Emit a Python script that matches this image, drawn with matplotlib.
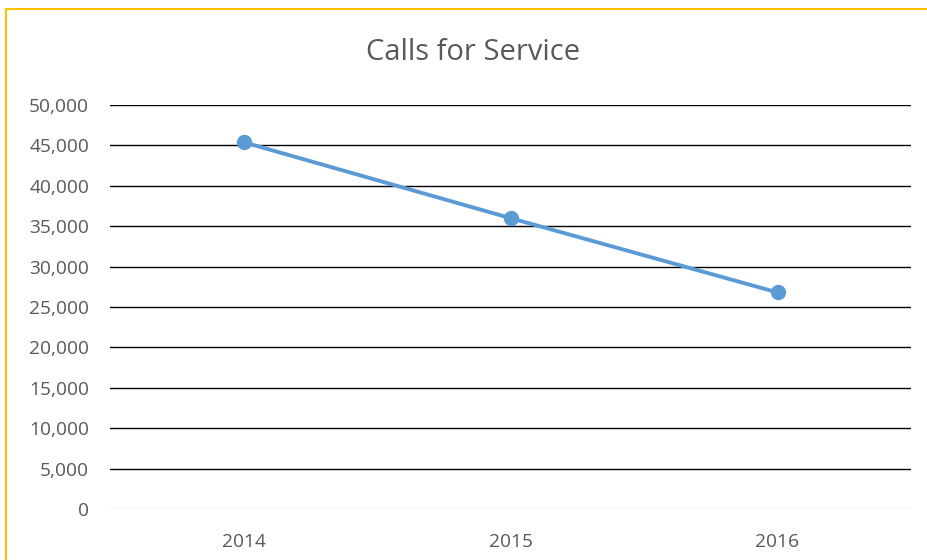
import matplotlib
matplotlib.use("Agg")
import matplotlib.pyplot as plt
from matplotlib.patches import Rectangle
from matplotlib.ticker import FuncFormatter

years = ['2014', '2015', '2016']
calls = [45400, 36000, 26800]
y_ticks = list(range(0, 50001, 5000))

plt.rcParams['font.family'] = ['Open Sans', 'DejaVu Sans']

fig = plt.figure(figsize=(9.27, 5.6), dpi=100)
ax = fig.add_axes([110 / 927, 1 - 509 / 560, 801 / 927, 404 / 560])

x = list(range(len(years)))
ax.plot(x, calls, color='#5B9BD5', linewidth=2.8, marker='o', markersize=10,
        solid_capstyle='round', zorder=3)

ax.set_xlim(-0.5, 2.5)
ax.set_ylim(0, 50000)
ax.set_xticks(x)
ax.set_xticklabels(years)
ax.set_yticks(y_ticks)
ax.yaxis.set_major_formatter(FuncFormatter(lambda v, p: f'{int(v):,}'))

# gridlines black, zero line light grey
for v in y_ticks[1:]:
    ax.axhline(v, color='black', linewidth=1.0, zorder=1)
ax.axhline(0, color='#D0D0D0', linewidth=1.0, zorder=1)

for s in ax.spines.values():
    s.set_visible(False)
ax.tick_params(length=0, labelsize=13.8, colors='#595959')
ax.tick_params(axis='y', pad=15)
ax.tick_params(axis='x', pad=17)

fig.text(473 / 927, 1 - 53 / 560, 'Calls for Service', ha='center', va='center',
         fontsize=21, color='#595959')

# yellow chart frame, cut off at right and bottom
fig.patches.append(Rectangle((6 / 927, -0.1), 1.2, 1 - 9 / 560 + 0.1,
                             transform=fig.transFigure, fill=False,
                             edgecolor='#FFC000', linewidth=1.5))

fig.savefig('out.png', dpi=100)
